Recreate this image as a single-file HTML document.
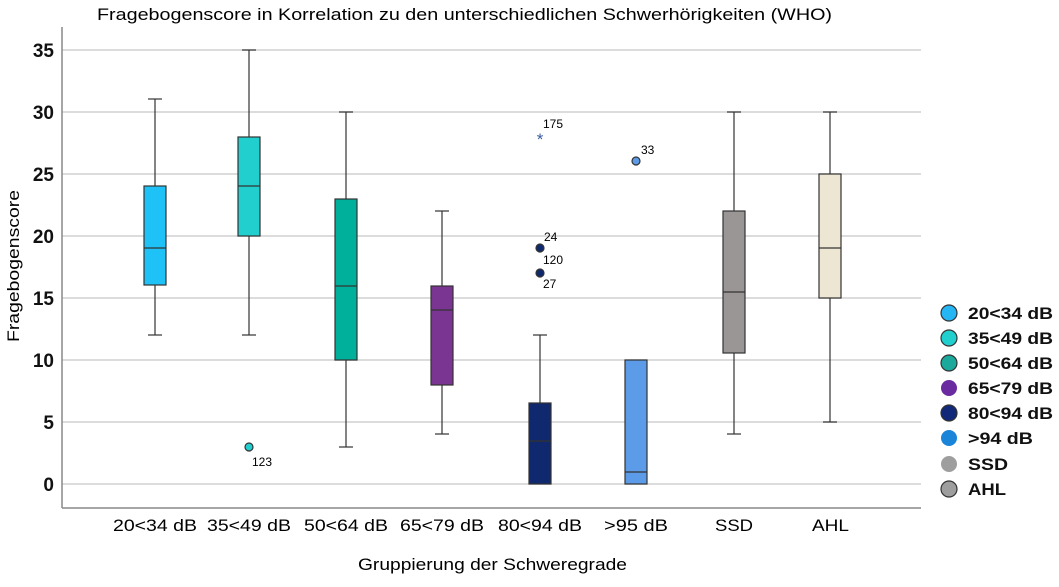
<!DOCTYPE html>
<html><head><meta charset="utf-8"><style>body{margin:0;background:#fff}svg{display:block;font-family:"Liberation Sans",Arial,sans-serif}</style></head><body>
<svg width="1059" height="587" xmlns="http://www.w3.org/2000/svg">
<text x="97" y="20" font-size="17" fill="#000" textLength="735" lengthAdjust="spacingAndGlyphs">Fragebogenscore in Korrelation zu den unterschiedlichen Schwerhörigkeiten (WHO)</text>
<g stroke="#d0d0d0" stroke-width="1.5">
<line x1="62" x2="921" y1="50" y2="50"/><line x1="62" x2="921" y1="112" y2="112"/><line x1="62" x2="921" y1="174" y2="174"/><line x1="62" x2="921" y1="236" y2="236"/><line x1="62" x2="921" y1="298" y2="298"/><line x1="62" x2="921" y1="360" y2="360"/><line x1="62" x2="921" y1="422" y2="422"/><line x1="62" x2="921" y1="484" y2="484"/>
</g>
<line x1="62" y1="27" x2="62" y2="508" stroke="#888" stroke-width="1.5"/>
<line x1="62" y1="508" x2="921" y2="508" stroke="#888" stroke-width="1.5"/>
<g font-size="19" font-weight="bold" text-anchor="end" fill="#111">
<text x="54" y="57">35</text><text x="54" y="119">30</text><text x="54" y="181">25</text><text x="54" y="243">20</text><text x="54" y="305">15</text><text x="54" y="367">10</text><text x="54" y="429">5</text><text x="54" y="491">0</text>
</g>
<text transform="translate(19,342) rotate(-90)" font-size="17" textLength="152" lengthAdjust="spacingAndGlyphs">Fragebogenscore</text>
<g font-size="17">
<text x="113" y="531" textLength="84" lengthAdjust="spacingAndGlyphs">20&lt;34 dB</text>
<text x="207" y="531" textLength="84" lengthAdjust="spacingAndGlyphs">35&lt;49 dB</text>
<text x="304" y="531" textLength="84" lengthAdjust="spacingAndGlyphs">50&lt;64 dB</text>
<text x="400" y="531" textLength="84" lengthAdjust="spacingAndGlyphs">65&lt;79 dB</text>
<text x="498" y="531" textLength="84" lengthAdjust="spacingAndGlyphs">80&lt;94 dB</text>
<text x="604" y="531" textLength="64" lengthAdjust="spacingAndGlyphs">&gt;95 dB</text>
<text x="715" y="531" textLength="38" lengthAdjust="spacingAndGlyphs">SSD</text>
<text x="812" y="531" textLength="37" lengthAdjust="spacingAndGlyphs">AHL</text>
</g>
<text x="358" y="570" font-size="17" textLength="269" lengthAdjust="spacingAndGlyphs">Gruppierung der Schweregrade</text>
<g stroke="#333" stroke-width="1.2">
<line x1="155" x2="155" y1="99" y2="335"/><line x1="148" x2="162" y1="99" y2="99"/><line x1="148" x2="162" y1="335" y2="335"/>
<rect x="144" y="186" width="22" height="99" fill="#1ec2f7"/><line x1="144" x2="166" y1="248" y2="248"/>
<line x1="249" x2="249" y1="50" y2="335"/><line x1="242" x2="256" y1="50" y2="50"/><line x1="242" x2="256" y1="335" y2="335"/>
<rect x="238" y="137" width="22" height="99" fill="#22cfcf"/><line x1="238" x2="260" y1="186" y2="186"/>
<circle cx="249" cy="447" r="4" fill="#22cfcf"/>
<line x1="346" x2="346" y1="112" y2="447"/><line x1="339" x2="353" y1="112" y2="112"/><line x1="339" x2="353" y1="447" y2="447"/>
<rect x="335" y="199" width="22" height="161" fill="#00b09a"/><line x1="335" x2="357" y1="286" y2="286"/>
<line x1="442" x2="442" y1="211" y2="434"/><line x1="435" x2="449" y1="211" y2="211"/><line x1="435" x2="449" y1="434" y2="434"/>
<rect x="431" y="286" width="22" height="99" fill="#7a3592"/><line x1="431" x2="453" y1="310" y2="310"/>
<line x1="540" x2="540" y1="335" y2="403"/><line x1="533" x2="547" y1="335" y2="335"/>
<rect x="529" y="403" width="22" height="81" fill="#10296e"/><line x1="529" x2="551" y1="441" y2="441"/>
<circle cx="540" cy="248" r="4" fill="#10296e"/><circle cx="540" cy="273" r="4" fill="#10296e"/>
<rect x="625" y="360" width="22" height="124" fill="#5b9be8"/><line x1="625" x2="647" y1="472" y2="472"/>
<circle cx="636" cy="161" r="4" fill="#5b9be8"/>
<line x1="734" x2="734" y1="112" y2="434"/><line x1="727" x2="741" y1="112" y2="112"/><line x1="727" x2="741" y1="434" y2="434"/>
<rect x="723" y="211" width="22" height="142" fill="#9a9695"/><line x1="723" x2="745" y1="292" y2="292"/>
<line x1="830" x2="830" y1="112" y2="422"/><line x1="823" x2="837" y1="112" y2="112"/><line x1="823" x2="837" y1="422" y2="422"/>
<rect x="819" y="174" width="22" height="124" fill="#ede6d2"/><line x1="819" x2="841" y1="248" y2="248"/>
</g>
<text x="540" y="145" font-size="17" fill="#3a5aa0" text-anchor="middle">*</text>
<g font-size="12" fill="#000">
<text x="252" y="466">123</text><text x="543" y="128">175</text><text x="544" y="241">24</text><text x="543" y="264">120</text><text x="543" y="288">27</text><text x="641" y="154">33</text>
</g>
<g stroke="#333" stroke-width="1.2">
<circle cx="949" cy="313" r="8" fill="#27b6f4"/><circle cx="949" cy="338" r="8" fill="#22cfcf"/><circle cx="949" cy="363" r="8" fill="#1aa99a"/><circle cx="949" cy="388" r="8" fill="#6a2aa0" stroke="none"/><circle cx="949" cy="413" r="8" fill="#12297a"/><circle cx="949" cy="438" r="8" fill="#1a84d8" stroke="none"/><circle cx="949" cy="464" r="8" fill="#9e9e9e" stroke="none"/><circle cx="949" cy="489" r="8" fill="#9e9e9e"/>
</g>
<g font-size="17" font-weight="bold" fill="#111">
<text x="968" y="319" textLength="85" lengthAdjust="spacingAndGlyphs">20&lt;34 dB</text>
<text x="968" y="344" textLength="85" lengthAdjust="spacingAndGlyphs">35&lt;49 dB</text>
<text x="968" y="369" textLength="85" lengthAdjust="spacingAndGlyphs">50&lt;64 dB</text>
<text x="968" y="394" textLength="85" lengthAdjust="spacingAndGlyphs">65&lt;79 dB</text>
<text x="968" y="419" textLength="85" lengthAdjust="spacingAndGlyphs">80&lt;94 dB</text>
<text x="968" y="444" textLength="65" lengthAdjust="spacingAndGlyphs">&gt;94 dB</text>
<text x="968" y="470" textLength="40" lengthAdjust="spacingAndGlyphs">SSD</text>
<text x="968" y="495" textLength="38" lengthAdjust="spacingAndGlyphs">AHL</text>
</g>
</svg>
</body></html>
